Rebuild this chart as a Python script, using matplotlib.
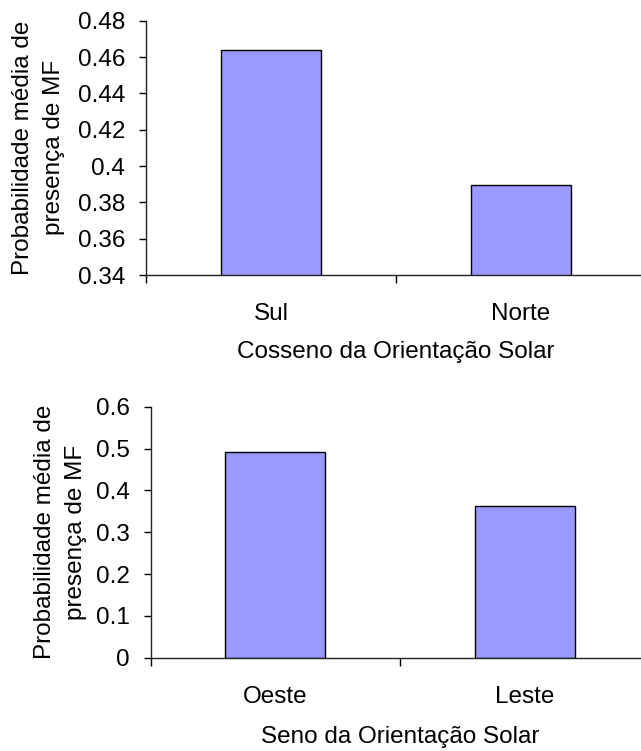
import matplotlib
matplotlib.use('Agg')
import matplotlib.pyplot as plt
import numpy as np

plt.rcParams['font.family'] = ['Liberation Sans', 'DejaVu Sans']

# ============================================================
# DADOS
# ============================================================
cats_cos = ['Sul', 'Norte']
vals_cos = [0.4639, 0.3895]
cats_sen = ['Oeste', 'Leste']
vals_sen = [0.493, 0.363]

ylabel = 'Probabilidade média de\npresença de MF'

bar_color = '#9999FF'
fs = 17.5

fig = plt.figure(figsize=(6.41, 7.51), dpi=100)

ax1 = fig.add_axes([0.2278, 0.6338, 0.78, 0.3386])
ax2 = fig.add_axes([0.2348, 0.1242, 0.7785, 0.3342])


def desenha(ax, cats, vals, ylim, yticks, yfmt, xlabel, ylab_x, xlab_y):
    x = np.arange(len(cats))
    ax.bar(x, vals, width=0.4, color=bar_color, edgecolor='black', linewidth=1.0)
    ax.set_xlim(-0.5, len(cats) - 0.5)
    ax.set_ylim(*ylim)
    ax.set_yticks(yticks)
    ax.set_yticklabels([yfmt(v) for v in yticks])
    # traços entre as categorias, rótulos no centro
    ax.set_xticks(np.arange(-0.5, len(cats), 1.0))
    ax.set_xticklabels([])
    ax.set_xticks(x, minor=True)
    ax.set_xticklabels(cats, minor=True)
    ax.tick_params(axis='x', which='major', direction='out', length=6, width=1)
    ax.tick_params(axis='x', which='minor', length=0, pad=20, labelsize=fs)
    ax.tick_params(axis='y', direction='out', length=5, width=1, pad=10, labelsize=fs)
    for s in ['top', 'right']:
        ax.spines[s].set_visible(False)
    for s in ['left', 'bottom']:
        ax.spines[s].set_linewidth(1)
        ax.spines[s].set_color('#222222')
    ax.text(ylab_x, 0.5, ylabel, transform=ax.transAxes, rotation=90,
            ha='center', va='center', multialignment='center', fontsize=fs,
            linespacing=1.5)
    ax.text(0.5, xlab_y, xlabel, transform=ax.transAxes, ha='center', va='center',
            fontsize=fs)


def fmt_sem_zero(v):
    return f'{v:.2f}'.rstrip('0').rstrip('.')


desenha(ax1, cats_cos, vals_cos, (0.34, 0.48), np.arange(0.34, 0.4801, 0.02),
        fmt_sem_zero, 'Cosseno da Orientação Solar', -0.215, -0.304)
desenha(ax2, cats_sen, vals_sen, (0, 0.6), np.arange(0, 0.601, 0.1),
        lambda v: f'{v:.1f}'.rstrip('0').rstrip('.') if v else '0',
        'Seno da Orientação Solar', -0.18, -0.314)

plt.savefig('out.png', dpi=100)
